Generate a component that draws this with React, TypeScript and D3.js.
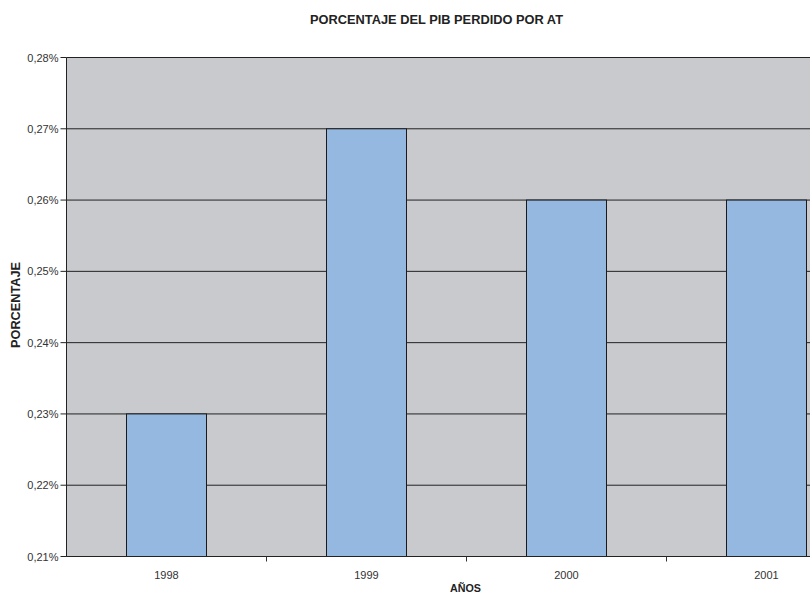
import React from "react";
import * as d3 from "d3";

const years = ["1998", "1999", "2000", "2001"];
const values = [0.0023, 0.0027, 0.0026, 0.0026];
const yTicks = [0.0021, 0.0022, 0.0023, 0.0024, 0.0025, 0.0026, 0.0027, 0.0028];

const W = 810;
const H = 594;
const left = 66.5;
const top = 57.5;
const bottom = 556.5;
const plotW = 800;

export default function App() {
  const x = d3.scaleBand<string>().domain(years).range([left, left + plotW]).paddingInner(0.6).paddingOuter(0.3);
  const y = d3.scaleLinear().domain([0.0021, 0.0028]).range([bottom, top]);
  const fmt = (v: number) => (v * 100).toFixed(2).replace(".", ",") + "%";
  const band = plotW / years.length;
  const font = "'Liberation Sans', Arial, sans-serif";
  return (
    <div style={{ position: "absolute", left: 0, top: 0, width: W, height: H, overflow: "hidden", background: "#fff" }}>
      <svg width={W} height={H} style={{ display: "block" }}>
        <text x={310} y={24} textLength={253} lengthAdjust="spacingAndGlyphs" fontFamily={font} fontWeight="bold" fontSize={12} fill="#222">
          PORCENTAJE DEL PIB PERDIDO POR AT
        </text>
        <rect x={left} y={top} width={plotW} height={bottom - top} fill="#C9CACE" />
        {yTicks.map((t) => (
          <g key={t}>
            <line x1={left} x2={left + plotW} y1={y(t)} y2={y(t)} stroke="#222" strokeWidth={1} />
            <line x1={left - 6} x2={left} y1={y(t)} y2={y(t)} stroke="#222" strokeWidth={1} />
            <text x={left - 8} y={y(t) + 4} textAnchor="end" fontFamily={font} fontSize={11} fill="#333">
              {fmt(t)}
            </text>
          </g>
        ))}
        {years.map((yr, i) => (
          <rect
            key={yr}
            x={x(yr)!}
            y={y(values[i])}
            width={x.bandwidth()}
            height={bottom - y(values[i])}
            fill="#95B8E1"
            stroke="#1a1a1a"
            strokeWidth={1}
          />
        ))}
        <line x1={left} x2={left} y1={top} y2={bottom} stroke="#222" strokeWidth={1} />
        <line x1={left} x2={left + plotW} y1={bottom} y2={bottom} stroke="#222" strokeWidth={1} />
        {years.map((yr, i) => (
          <g key={"t" + yr}>
            <line x1={left + band * (i + 1)} x2={left + band * (i + 1)} y1={bottom} y2={bottom + 5} stroke="#333" strokeWidth={1} />
            <text x={x(yr)! + x.bandwidth() / 2} y={bottom + 22} textAnchor="middle" fontFamily={font} fontSize={11} fill="#333">
              {yr}
            </text>
          </g>
        ))}
        <text x={450} y={592} textLength={31} lengthAdjust="spacingAndGlyphs" fontFamily={font} fontWeight="bold" fontSize={11} fill="#222">
          AÑOS
        </text>
        <text transform="translate(20,348) rotate(-90)" textLength={86} lengthAdjust="spacingAndGlyphs" fontFamily={font} fontWeight="bold" fontSize={12} fill="#222">
          PORCENTAJE
        </text>
      </svg>
    </div>
  );
}
